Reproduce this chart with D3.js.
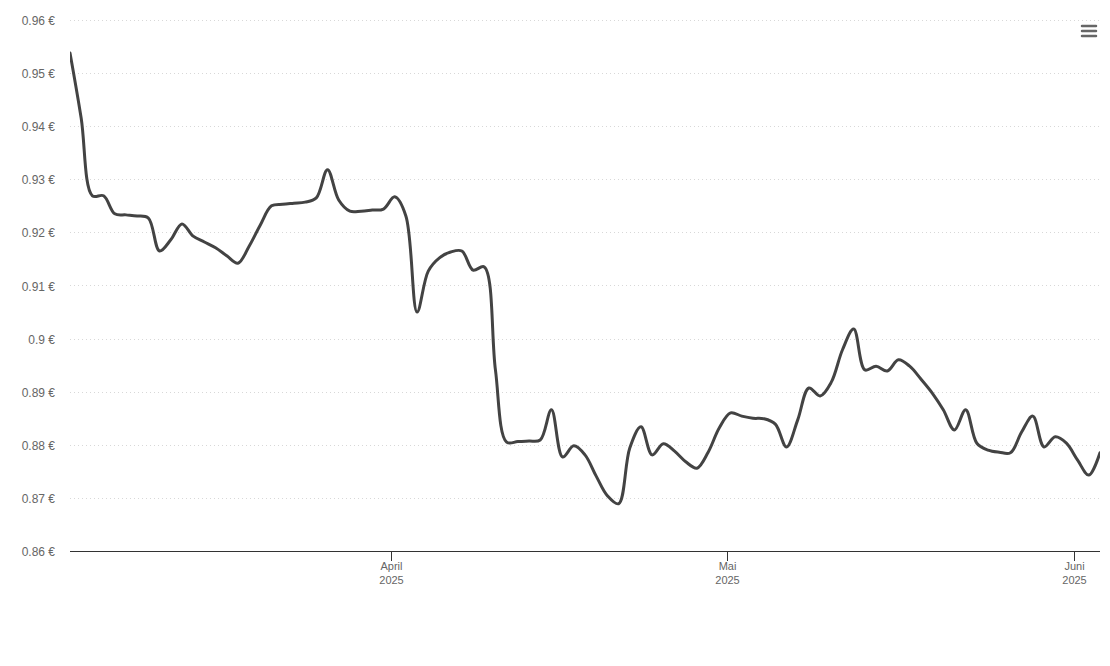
<!DOCTYPE html>
<html><head><meta charset="utf-8">
<script src="https://cdn.jsdelivr.net/npm/d3@7"></script>
<style>
html,body{margin:0;padding:0;background:#fff;}
svg{display:block;font-family:"Liberation Sans",Arial,Helvetica,sans-serif;}
</style></head>
<body><svg id="chart" width="1110" height="666"></svg>
<script>
// ---- data ----
const startDate = "2025-03-03T07:00:00Z"; // first daily observation
const values = [
0.9538,0.9415,0.9269,0.9269,0.9235,0.9233,0.9231,0.9227,0.9165,0.9186,
0.9216,0.9193,0.9182,0.9171,0.9156,0.9142,0.9174,0.9214,0.9250,0.9253,
0.9255,0.9257,0.9265,0.9318,0.9261,0.9240,0.9240,0.9242,0.9244,0.9267,
0.9231,0.9050,0.9127,0.9152,0.9163,0.9165,0.9129,0.9135,0.8941,0.8805,
0.8806,0.8807,0.8809,0.8866,0.8777,0.8798,0.8781,0.8741,0.8704,0.8689,
0.8794,0.8834,0.8781,0.8802,0.8788,0.8768,0.8756,0.8786,0.8832,0.8860,
0.8854,0.8850,0.8849,0.8839,0.8796,0.8847,0.8907,0.8892,0.8918,0.8979,
0.9018,0.8941,0.8948,0.8939,0.8960,0.8948,0.8924,0.8898,0.8866,0.8828,
0.8866,0.8803,0.8790,0.8786,0.8785,0.8824,0.8854,0.8796,0.8815,0.8803,
0.8771,0.8743,0.8785
];
const yTicks = [0.86,0.87,0.88,0.89,0.9,0.91,0.92,0.93,0.94,0.95,0.96];
const yTickLabels = ["0.86 €","0.87 €","0.88 €","0.89 €","0.9 €","0.91 €","0.92 €","0.93 €","0.94 €","0.95 €","0.96 €"];
const xTickDates = ["2025-04-01","2025-05-01","2025-06-01"];
const xTickMonths = ["April","Mai","Juni"];
const xTickYears = ["2025","2025","2025"];

(function(){
const t0 = new Date(startDate);
const data = values.map((v,i)=>({date:d3.utcDay.offset(t0,i), value:v}));

const mL=70, mR=1100, mT=20, mB=551;
const svg = d3.select("#chart");

const x = d3.scaleUtc().domain(d3.extent(data,d=>d.date)).range([mL,mR]);
const y = d3.scaleLinear().domain([yTicks[0], yTicks[yTicks.length-1]]).range([mB,mT]);

// grid
svg.append("g").selectAll("line").data(yTicks).join("line")
  .attr("x1",mL).attr("x2",mR)
  .attr("y1",d=>Math.round(y(d))+0.5).attr("y2",d=>Math.round(y(d))+0.5)
  .attr("stroke","#d8d8d8").attr("stroke-width",1).attr("stroke-dasharray","1,3");

// y labels
svg.append("g").selectAll("text").data(yTicks).join("text")
  .attr("x",55).attr("y",d=>y(d)+5)
  .attr("text-anchor","end").attr("fill","#666").attr("font-size","12px")
  .text((d,i)=>yTickLabels[i]);

// x axis
const xt = xTickDates.map(s=>new Date(s+"T00:00:00Z"));
svg.append("line").attr("x1",mL).attr("x2",mR)
  .attr("y1",mB+0.5).attr("y2",mB+0.5).attr("stroke","#333").attr("stroke-width",1);
const tg = svg.append("g").selectAll("g").data(xt).join("g")
  .attr("transform",d=>`translate(${Math.round(x(d))+0.5},0)`);
tg.append("line").attr("y1",mB).attr("y2",mB+10).attr("stroke","#333");
tg.append("text").attr("y",mB+19).attr("text-anchor","middle").attr("fill","#666").attr("font-size","11px")
  .text((d,i)=>xTickMonths[i]);
tg.append("text").attr("y",mB+33).attr("text-anchor","middle").attr("fill","#666").attr("font-size","11px")
  .text((d,i)=>xTickYears[i]);

// line
svg.append("defs").append("clipPath").attr("id","clip").append("rect")
  .attr("x",mL).attr("y",0).attr("width",mR-mL).attr("height",mB);
const line = d3.line().x(d=>x(d.date)).y(d=>y(d.value)).curve(d3.curveCatmullRom.alpha(0.5));
svg.append("path").datum(data).attr("d",line).attr("clip-path","url(#clip)")
  .attr("fill","none").attr("stroke","#434343").attr("stroke-width",3)
  .attr("stroke-linejoin","round").attr("stroke-linecap","round");

// menu icon
svg.append("g").selectAll("line").data([0,1,2]).join("line")
  .attr("x1",1082).attr("x2",1096)
  .attr("y1",d=>26+d*5).attr("y2",d=>26+d*5)
  .attr("stroke","#666").attr("stroke-width",2.5).attr("stroke-linecap","round");
})();
</script></body></html>
